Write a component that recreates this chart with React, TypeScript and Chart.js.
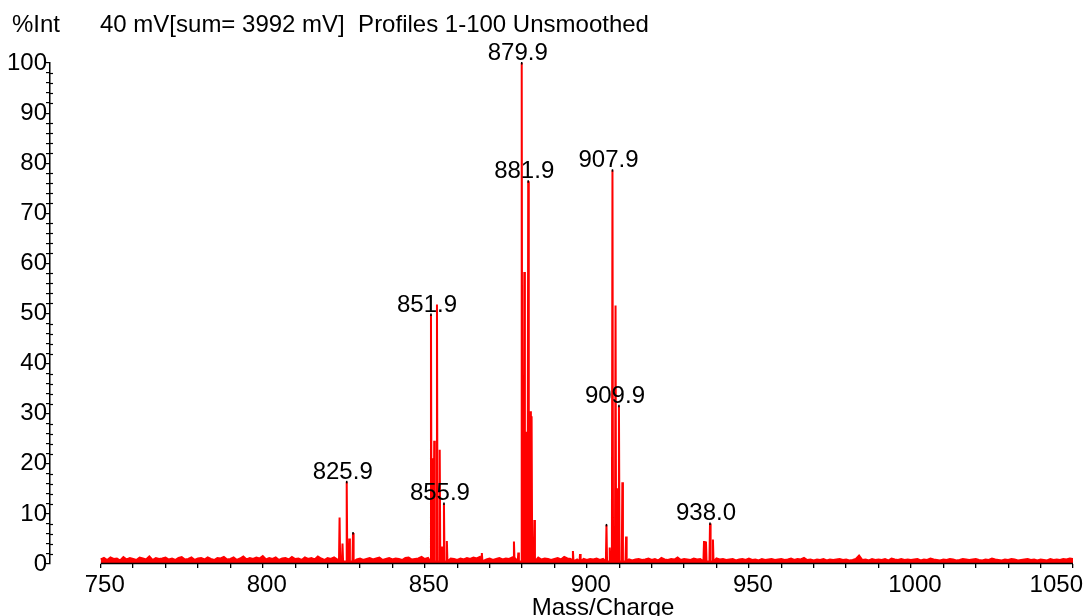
import { useEffect, useRef } from "react";
import { Chart, registerables } from "chart.js";

Chart.register(...registerables);

const FONT = '"Liberation Sans", Arial, Helvetica, sans-serif';

// ---- data ----
const headerLeft = "%Int";
const headerText = "40 mV[sum= 3992 mV]  Profiles 1-100 Unsmoothed";
const xTitle = "Mass/Charge";

const massStart = 750;
const massEnd = 1050;
const massViewMin = 734.35; // room for the detached y axis
const xMajorStep = 50;
const xMinorStep = 10;
const yMajorStep = 10;
const yMinorStep = 2;

// baseline noise, one value per m/z unit from 750 to 1050 (% intensity)
const noise = [
  0.9, 1.2, 0.8, 1.3, 1.0, 1.1, 0.7, 1.4, 0.9, 1.2,
  1.0, 0.8, 1.3, 1.1, 0.9, 1.5, 0.8, 1.2, 1.0, 1.1,
  1.3, 0.9, 1.1, 0.8, 1.2, 1.4, 0.9, 1.0, 1.3, 0.8,
  1.1, 1.2, 0.9, 1.3, 1.0, 0.8, 1.2, 1.1, 1.4, 0.9,
  1.0, 1.3, 0.8, 1.1, 1.5, 0.9, 1.2, 1.0, 1.3, 1.1,
  1.6, 0.9, 1.2, 1.0, 1.3, 0.8, 1.1, 1.2, 0.9, 1.4,
  1.0, 1.1, 0.8, 1.3, 1.0, 1.2, 0.9, 1.5, 1.1, 0.8,
  1.2, 1.0, 1.3, 0.9, 1.1, 0.8, 1.2, 1.0, 1.3, 0.9,
  1.1, 0.8, 1.0, 1.2, 0.9, 1.1, 1.3, 0.8, 1.0, 1.2,
  0.9, 1.1, 1.0, 0.8, 1.2, 1.3, 0.9, 1.0, 1.1, 1.4,
  1.0, 1.2, 0.9, 1.1, 1.0, 0.8, 1.2, 0.9, 1.1, 1.0,
  0.8, 1.1, 0.9, 1.2, 1.0, 1.3, 1.1, 1.4, 1.0, 0.9,
  1.1, 0.8, 1.0, 1.2, 0.9, 1.1, 1.0, 1.3, 1.0, 1.2,
  1.0, 1.1, 0.9, 1.0, 1.2, 1.3, 0.9, 1.1, 1.0, 0.8,
  1.0, 1.2, 0.9, 1.4, 1.1, 1.0, 1.3, 0.9, 1.2, 1.0,
  0.8, 1.0, 0.9, 1.1, 0.8, 1.0, 1.2, 0.9, 1.0, 1.1,
  0.9, 0.8, 1.0, 0.9, 0.7, 0.9, 1.0, 0.8, 0.9, 1.1,
  0.8, 1.0, 0.7, 1.2, 0.9, 0.8, 1.0, 0.9, 1.3, 0.8,
  1.0, 0.9, 0.8, 1.1, 0.9, 1.0, 1.2, 0.9, 1.0, 1.3,
  1.1, 0.9, 1.0, 0.8, 0.9, 1.0, 0.7, 0.9, 1.0, 0.8,
  1.1, 0.8, 0.9, 0.7, 1.0, 0.8, 0.9, 1.0, 0.8, 0.9,
  1.0, 0.8, 0.9, 1.1, 0.8, 1.0, 0.9, 1.2, 0.8, 0.9,
  0.7, 0.9, 0.8, 1.0, 0.7, 0.9, 0.8, 0.9, 1.0, 0.8,
  0.9, 0.7, 0.8, 1.0, 1.7, 0.8, 0.9, 0.7, 1.0, 0.8,
  0.9, 0.8, 1.0, 0.7, 1.1, 0.9, 0.8, 1.0, 0.8, 0.9,
  0.8, 0.9, 1.0, 0.7, 0.9, 0.8, 1.1, 0.9, 0.8, 0.7,
  0.9, 0.8, 1.0, 0.9, 0.7, 0.8, 1.0, 0.9, 0.8, 0.9,
  1.0, 0.8, 0.7, 0.9, 0.8, 1.1, 0.9, 0.8, 0.7, 0.9,
  0.8, 1.0, 0.9, 0.7, 0.8, 0.9, 1.0, 0.8, 0.9, 0.7,
  0.9, 0.8, 0.7, 1.0, 0.8, 0.9, 0.8, 1.0, 0.9, 1.1,
  1.0,
];

const peakMz = [
  823.7, 824.6, 825.9, 826.7, 827.85,
  851.9, 852.5, 852.9, 853.75, 854.6, 855.3, 855.9, 856.8,
  867.6,
  877.5, 878.85, 879.9, 880.7, 881.25, 881.9, 882.55, 882.95, 883.8,
  895.7, 897.9,
  906.05, 907.05, 907.9, 908.85, 909.35, 909.9, 910.95, 912.1,
  936.15, 936.75, 938.0, 938.9,
];
const peakInt = [
  9.3, 4.1, 16.4, 5.1, 6.2,
  49.8, 21.1, 24.6, 51.8, 22.8, 3.5, 12.1, 4.6,
  2.2,
  4.5, 2.3, 100, 58.3, 26.4, 76.4, 30.5, 29.5, 8.8,
  2.6, 2.0,
  7.8, 3.3, 78.6, 51.6, 15.1, 31.6, 16.3, 5.5,
  4.6, 4.5, 8.1, 4.9,
];
const peakBase = 0.5;
const peakHalfWidth = 0.18;

const labelMz = [825.9, 851.9, 855.9, 879.9, 881.9, 907.9, 909.9, 938.0];
const labelText = ["825.9", "851.9", "855.9", "879.9", "881.9", "907.9", "909.9", "938.0"];
const markedMz = [825.9, 827.85, 851.9, 855.9, 879.9, 881.9, 906.05, 907.9, 909.9, 938.0];

function buildPoints() {
  const pts: { x: number; y: number }[] = [];
  noise.forEach((v, i) => {
    const mz = massStart + i;
    if (peakMz.some((p) => Math.abs(p - mz) < 0.4)) return;
    pts.push({ x: mz, y: v });
  });
  peakMz.forEach((mz, i) => {
    pts.push({ x: mz - peakHalfWidth, y: peakBase });
    pts.push({ x: mz, y: peakInt[i] });
    pts.push({ x: mz + peakHalfWidth, y: peakBase });
  });
  pts.sort((a, b) => a.x - b.x);
  return pts;
}

function range(a: number, b: number, step: number) {
  const out: number[] = [];
  for (let v = a; v <= b + 1e-9; v += step) out.push(Math.round(v * 1000) / 1000);
  return out;
}

const overlay = {
  id: "overlay",
  afterDraw(chart: any) {
    const { ctx, scales, chartArea, width } = chart;
    const xs = scales.x;
    const ys = scales.y;
    ctx.save();
    ctx.fillStyle = "#000";
    ctx.strokeStyle = "#000";
    ctx.font = `24px ${FONT}`;
    ctx.textBaseline = "alphabetic";
    ctx.textAlign = "left";
    ctx.fillText(headerLeft, 12, 32);
    ctx.fillText(headerText, 100, 32);

    // x axis line, only across the data range
    const x0 = xs.getPixelForValue(massStart);
    const x1 = xs.getPixelForValue(massEnd);
    ctx.lineWidth = 1.5;
    ctx.beginPath();
    ctx.moveTo(x0, chartArea.bottom - 0.5);
    ctx.lineTo(x1, chartArea.bottom - 0.5);
    ctx.stroke();

    // x tick labels (last one kept inside the canvas)
    ctx.textAlign = "center";
    range(massStart, massEnd, xMajorStep).forEach((v) => {
      const t = String(v);
      const w = ctx.measureText(t).width;
      let cx = xs.getPixelForValue(v) + 4;
      if (cx + w / 2 > width - 5) cx = width - 5 - w / 2;
      ctx.fillText(t, cx, chartArea.bottom + 28);
    });

    // minor y ticks crossing into the plot
    ctx.lineWidth = 1.2;
    range(0, 100, yMinorStep).forEach((v) => {
      if (Math.round(v) % yMajorStep === 0) return;
      const py = Math.round(ys.getPixelForValue(v)) + 0.5;
      ctx.beginPath();
      ctx.moveTo(chartArea.left, py);
      ctx.lineTo(chartArea.left + 3, py);
      ctx.stroke();
    });

    // x title
    ctx.fillText(xTitle, xs.getPixelForValue(905), 615);

    // small black marks at picked apices
    ctx.lineWidth = 1.5;
    markedMz.forEach((mz) => {
      const i = peakMz.indexOf(mz);
      if (i < 0) return;
      const px = xs.getPixelForValue(mz);
      const py = ys.getPixelForValue(peakInt[i]);
      ctx.beginPath();
      ctx.moveTo(px, py - 1);
      ctx.lineTo(px, py + 1.5);
      ctx.stroke();
    });

    // peak labels
    labelMz.forEach((mz, k) => {
      const i = peakMz.indexOf(mz);
      const px = xs.getPixelForValue(mz);
      const py = ys.getPixelForValue(peakInt[i]);
      ctx.fillText(labelText[k], px - 4, py - 3);
    });
    ctx.restore();
  },
};

export default function App() {
  const ref = useRef<HTMLCanvasElement | null>(null);
  useEffect(() => {
    if (!ref.current) return;
    const chart = new Chart(ref.current, {
      type: "line",
      data: {
        datasets: [
          {
            data: buildPoints(),
            borderColor: "#ff0000",
            backgroundColor: "#ff0000",
            borderWidth: 2,
            pointRadius: 0,
            fill: "origin",
            tension: 0,
          },
        ],
      },
      options: {
        responsive: false,
        animation: false,
        events: [],
        layout: { padding: { top: 63, right: 15, left: 0, bottom: 0 } },
        plugins: {
          legend: { display: false },
          tooltip: { enabled: false },
          title: { display: false },
        },
        scales: {
          x: {
            type: "linear",
            min: massViewMin,
            max: massEnd,
            afterBuildTicks: (s: any) => {
              s.ticks = range(massStart, massEnd, xMinorStep).map((v) => ({ value: v }));
            },
            afterFit: (s: any) => {
              s.height = 52;
              s.paddingLeft = 0;
              s.paddingRight = 0;
            },
            grid: { drawOnChartArea: false, drawTicks: true, tickLength: 4, color: "#000", lineWidth: 1.3 },
            border: { display: false },
            ticks: {
              autoSkip: false,
              maxRotation: 0,
              minRotation: 0,
              padding: 3,
              color: "#000",
              font: { family: FONT, size: 24 },
              callback: () => "",
            },
          },
          y: {
            min: 0,
            max: 100,
            afterBuildTicks: (s: any) => {
              s.ticks = range(0, 100, yMinorStep).map((v) => ({ value: v }));
            },
            afterFit: (s: any) => {
              s.width = 50;
              s.paddingTop = 0;
              s.paddingBottom = 0;
            },
            grid: { drawOnChartArea: false, drawTicks: true, tickLength: 4, color: "#000", lineWidth: 1.2 },
            border: { display: true, color: "#000", width: 1.5 },
            ticks: {
              autoSkip: false,
              padding: -1,
              color: "#000",
              font: { family: FONT, size: 24 },
              callback: (v: any) => (Math.round(v) % yMajorStep === 0 ? String(v) : ""),
            },
          },
        },
      },
      plugins: [overlay],
    } as any);
    return () => chart.destroy();
  }, []);
  return (
    <canvas
      ref={ref}
      width={1088}
      height={616}
      style={{ position: "absolute", left: 0, top: 0, display: "block", width: 1088, height: 616 }}
    />
  );
}
